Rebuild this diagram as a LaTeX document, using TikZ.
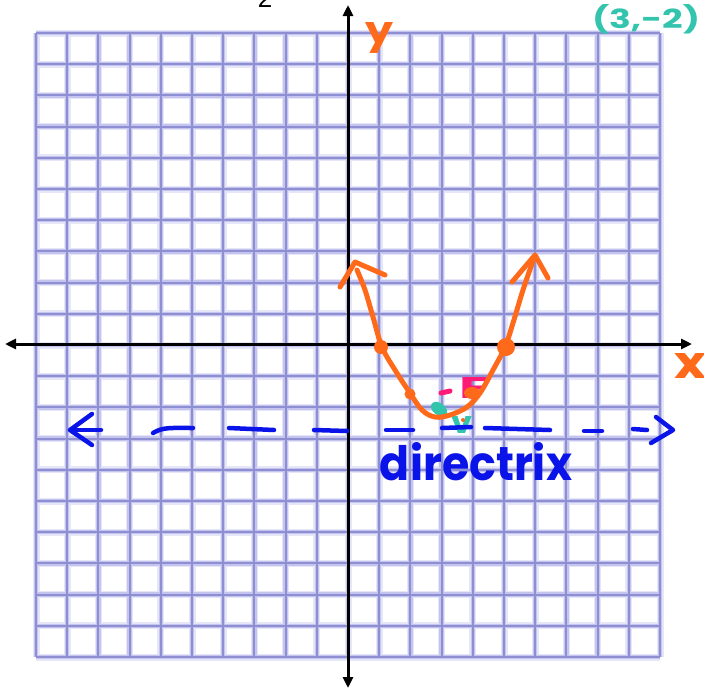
\documentclass[tikz,border=0pt]{standalone}
\usepackage{fontspec}
\setmainfont{Liberation Sans}
\newfontfamily\handfont{Poppins}
\usetikzlibrary{arrows.meta}
\definecolor{gridcore}{HTML}{8E8ED2}
\definecolor{gridhalo}{HTML}{C4C4EE}
\definecolor{gridglow}{HTML}{E6E6F9}
\definecolor{curveorange}{HTML}{FF6A1A}
\definecolor{focuspink}{HTML}{FF1A78}
\definecolor{vertexteal}{HTML}{33C4AE}
\definecolor{dirblue}{HTML}{0A14E8}
\tikzset{
  glow/.style={gridglow, line width=7},
  halo/.style={gridhalo, line width=4.5},
  core/.style={gridcore, line width=2},
  axis/.style={black, line width=3, {Triangle[length=11pt,width=10pt]}-{Triangle[length=11pt,width=10pt]}},
  curvepen/.style={curveorange, line width=5, line cap=round, line join=round},
  dirpen/.style={dirblue, line width=4.5, line cap=round, line join=round},
  handtext/.style={inner sep=0, outer sep=0, anchor=base, font=\handfont\bfseries},
}
\begin{document}
\begin{tikzpicture}[x=1pt,y=-1pt]
\useasboundingbox (0,0) rectangle (704,691);
\fill[white] (0,0) rectangle (704,691);
% grid
\foreach \i in {0,...,20} {
  \draw[glow] ({36+31.2*\i},33) -- ({36+31.2*\i},657);
  \draw[glow] (36,{33+31.2*\i}) -- (660,{33+31.2*\i});
}
\foreach \i in {0,...,20} {
  \draw[halo] ({36+31.2*\i},33) -- ({36+31.2*\i},657);
  \draw[halo] (36,{33+31.2*\i}) -- (660,{33+31.2*\i});
}
\foreach \i in {0,...,20} {
  \draw[core] ({36+31.2*\i},33) -- ({36+31.2*\i},657);
  \draw[core] (36,{33+31.2*\i}) -- (660,{33+31.2*\i});
}
% axes
\coordinate (xl) at (5,344);
\coordinate (xr) at (692,344);
\coordinate (yt) at (348,5);
\coordinate (yb) at (348,688);
\draw[axis] (xl) -- (xr);
\draw[axis] (yt) -- (yb);
% stray label at top
\node[inner sep=0, anchor=base, font=\fontsize{26}{26}\selectfont] (two) at (265,7) {2};
% axis labels
\node[handtext, text=curveorange] (ylab) at (379,43) {\resizebox{28pt}{21pt}{y}};
\node[handtext, text=curveorange] (xlab) at (690,378) {\resizebox{32pt}{25pt}{x}};
% vertex label
\node[handtext, text=vertexteal] (vlab) at (646,28) {\resizebox{108pt}{24pt}{(3,-2)}};
% vertex marker
\fill[vertexteal, rotate around={-35:(439,409)}] (439,409) ellipse (9 and 6);
\node[handtext, text=vertexteal] (vmark) at (462,433) {\resizebox{21pt}{17pt}{v}};
% directrix
\draw[dirpen] (92,414) -- (70,430) -- (92,445);
\draw[dirpen] (70,430) -- (101,430);
\draw[dirpen] (153,433) .. controls (163,427) and (170,428) .. (193,428);
\draw[dirpen] (229,428) -- (274,430);
\draw[dirpen] (314,430) -- (347,431);
\draw[dirpen] (386,430) -- (413,430);
\draw[dirpen] (442,428) -- (471,427);
\draw[dirpen] (485,428) -- (550,430);
\draw[dirpen] (584,431) -- (602,431);
\draw[dirpen] (633,429) -- (647,430);
\draw[dirpen] (656,417) -- (673,430) -- (651,443);
\node[handtext, text=dirblue] (dirlab) at (476,480) {\resizebox{192pt}{38pt}{directrix}};
% focus
\draw[focuspink, line width=5, line cap=round] (441,393) -- (450,391);
\node[handtext, text=focuspink] (flab) at (474,398) {\resizebox{30pt}{21pt}{F}};
% parabola
\draw[curvepen] plot[smooth, tension=0.6] coordinates {(357,270) (365,290) (373,317) (382,347) (395,370) (410,393) (422,410) (435,417) (450,415) (467,407) (480,393) (493,370) (505,347) (513,323) (523,290) (534,258)};
\draw[curvepen] (340,287) -- (355,262) -- (385,275);
\draw[curvepen] (512,282) -- (535,255) -- (548,278);
\fill[curveorange] (381,347) circle (7);
\fill[curveorange] (410,394) circle (5.5);
\fill[curveorange] (506,347) circle (9);
\fill[curveorange] (472,393) ellipse (8 and 6);
\fill[curveorange] (463,420) circle (2);
\end{tikzpicture}
\end{document}
